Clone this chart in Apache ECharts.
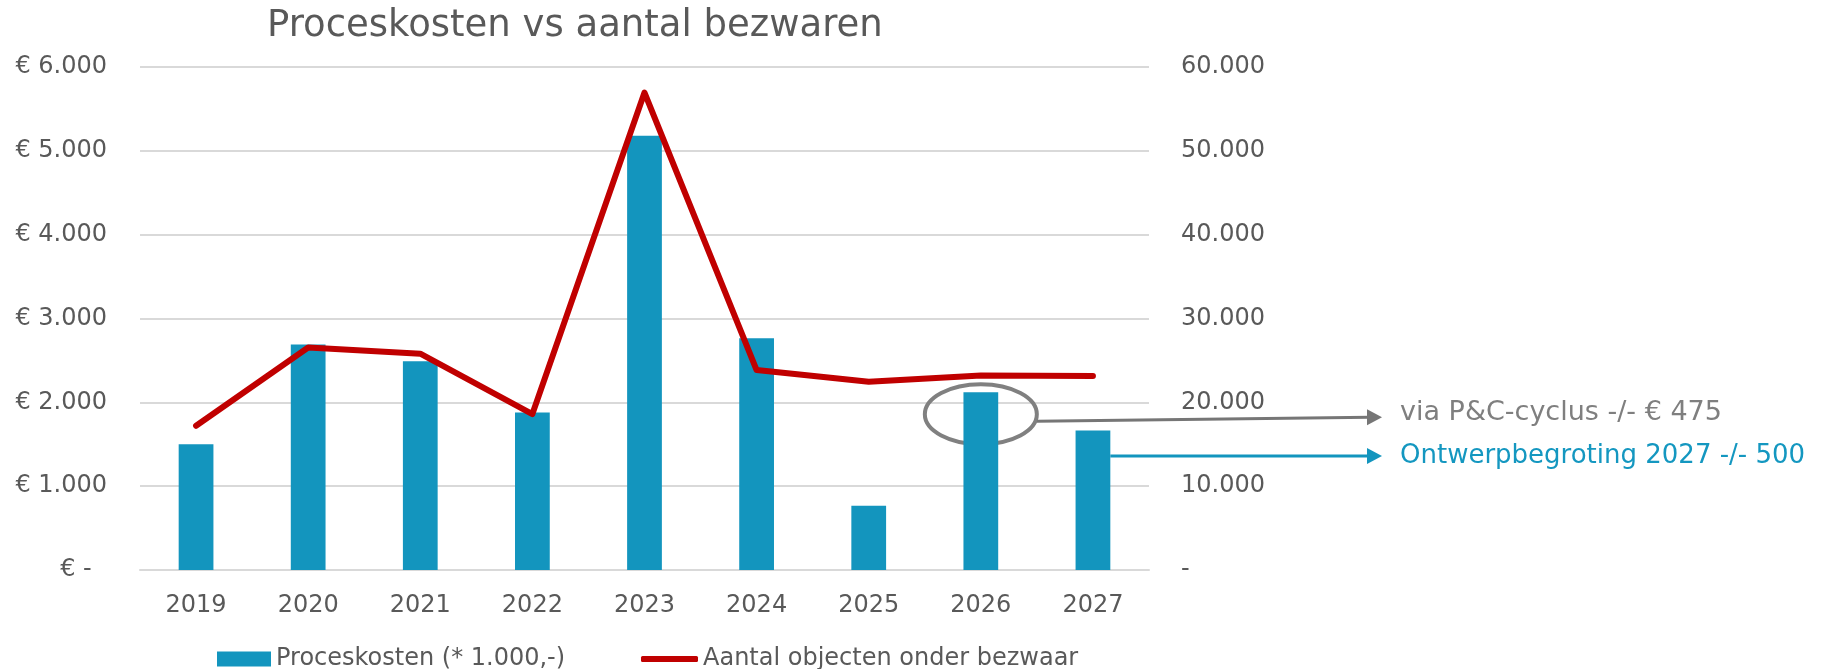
<!DOCTYPE html>
<html>
<head>
<meta charset="utf-8">
<title>Proceskosten vs aantal bezwaren</title>
<script src="https://cdn.jsdelivr.net/npm/echarts@6/dist/echarts.min.js"></script>
<style>
  html, body { margin: 0; padding: 0; background: #fff; }
  #chart { width: 1832px; height: 669px; }
</style>
</head>
<body>
<div id="chart"></div>
<script>
// jaren op de x-as
var years = ['2019', '2020', '2021', '2022', '2023', '2024', '2025', '2026', '2027'];
// proceskosten (* 1.000,-), linker as
var proceskosten = [1500, 2690, 2490, 1880, 5180, 2765, 765, 2120, 1665];
// aantal objecten onder bezwaar, rechter as
var bezwaren = [17200, 26550, 25800, 18600, 56950, 23850, 22450, 23200, 23150];
// assen
var leftTicks = [0, 1000, 2000, 3000, 4000, 5000, 6000];
var rightTicks = [0, 10000, 20000, 30000, 40000, 50000, 60000];
// annotaties
var noteTexts = ['via P&C-cyclus -/- € 475', 'Ontwerpbegroting 2027 -/- 500'];

var FONT = 'DejaVu Sans, Verdana, sans-serif';
var GREY = '#595959';
var BLUE = '#1395BE';
var RED = '#C00000';

function dots(n) {
  return String(n).replace(/\B(?=(\d{3})+(?!\d))/g, '.');
}

var chart = echarts.init(document.getElementById('chart'));

chart.setOption({
  animation: false,
  title: {
    text: 'Proceskosten vs aantal bezwaren',
    left: 262,
    top: 3,
    textStyle: { fontFamily: FONT, fontSize: 37, fontWeight: 'normal', color: GREY }
  },
  grid: { left: 140, right: 683, top: 67, bottom: 99 },
  legend: [
    {
      data: [{ name: 'Proceskosten (* 1.000,-)', icon: 'rect' }],
      left: 212, top: 642,
      itemWidth: 54, itemHeight: 15,
      textStyle: { fontFamily: FONT, fontSize: 24, color: GREY }
    },
    {
      data: [{ name: 'Aantal objecten onder bezwaar', icon: 'roundRect' }],
      left: 636, top: 642,
      itemWidth: 57, itemHeight: 6,
      textStyle: { fontFamily: FONT, fontSize: 24, color: GREY }
    }
  ],
  xAxis: {
    type: 'category',
    data: years,
    axisLine: { lineStyle: { color: '#d9d9d9', width: 2 } },
    axisTick: { show: false },
    axisLabel: { fontFamily: FONT, fontSize: 24, color: GREY, margin: 24 }
  },
  yAxis: [
    {
      type: 'value',
      min: leftTicks[0], max: leftTicks[leftTicks.length - 1], interval: 1000,
      axisLine: { show: false },
      axisTick: { show: false },
      splitLine: { lineStyle: { color: '#d9d9d9', width: 2 } },
      axisLabel: {
        fontFamily: FONT, fontSize: 24, color: GREY, margin: 33,
        formatter: function (v) { return v === 0 ? '€ -  ' : '€ ' + dots(v); }
      }
    },
    {
      type: 'value',
      min: rightTicks[0], max: rightTicks[rightTicks.length - 1], interval: 10000,
      axisLine: { show: false },
      axisTick: { show: false },
      splitLine: { show: false },
      axisLabel: {
        fontFamily: FONT, fontSize: 24, color: GREY, margin: 32,
        formatter: function (v) { return v === 0 ? '-' : dots(v); }
      }
    }
  ],
  series: [
    {
      name: 'Proceskosten (* 1.000,-)',
      type: 'bar',
      data: proceskosten,
      barWidth: '31%',
      itemStyle: { color: BLUE }
    },
    {
      name: 'Aantal objecten onder bezwaar',
      type: 'line',
      yAxisIndex: 1,
      data: bezwaren,
      symbol: 'none',
      lineStyle: { color: RED, width: 6, cap: 'round', join: 'round' },
      itemStyle: { color: RED }
    }
  ]
});

// annotaties: ellips om 2026, pijlen naar de toelichting
var circ = chart.convertToPixel({ seriesIndex: 0 }, ['2026', proceskosten[7]]);
var bar27 = chart.convertToPixel({ seriesIndex: 0 }, ['2027', 1360]);
var cx = circ[0], cy = circ[1] + 22, rx = 56, ry = 30;
var tipX = 1382, textX = 1400;
var barHalf = (bar27[0] - circ[0]) * 0.31 / 2;
var greyY = cy + 7, greyTipY = cy + 3;
var blueY = bar27[1];

chart.setOption({
  graphic: [
    { type: 'ellipse', shape: { cx: cx, cy: cy, rx: rx, ry: ry }, style: { fill: null, stroke: '#808080', lineWidth: 4 } },
    { type: 'line', shape: { x1: cx + rx, y1: greyY, x2: tipX - 12, y2: greyTipY }, style: { stroke: '#767676', lineWidth: 3 } },
    { type: 'polygon', shape: { points: [[tipX, greyTipY], [tipX - 15, greyTipY - 8], [tipX - 15, greyTipY + 8]] }, style: { fill: '#767676' } },
    { type: 'line', shape: { x1: bar27[0] + barHalf, y1: blueY, x2: tipX - 12, y2: blueY }, style: { stroke: BLUE, lineWidth: 3 } },
    { type: 'polygon', shape: { points: [[tipX, blueY], [tipX - 15, blueY - 8], [tipX - 15, blueY + 8]] }, style: { fill: BLUE } },
    { type: 'text', x: textX, y: greyTipY - 4, style: { text: noteTexts[0], font: '27px ' + FONT, fill: '#7f7f7f', verticalAlign: 'middle' } },
    { type: 'text', x: textX, y: blueY, style: { text: noteTexts[1], font: '26px ' + FONT, fill: '#1497C0', verticalAlign: 'middle' } }
  ]
});
</script>
</body>
</html>
